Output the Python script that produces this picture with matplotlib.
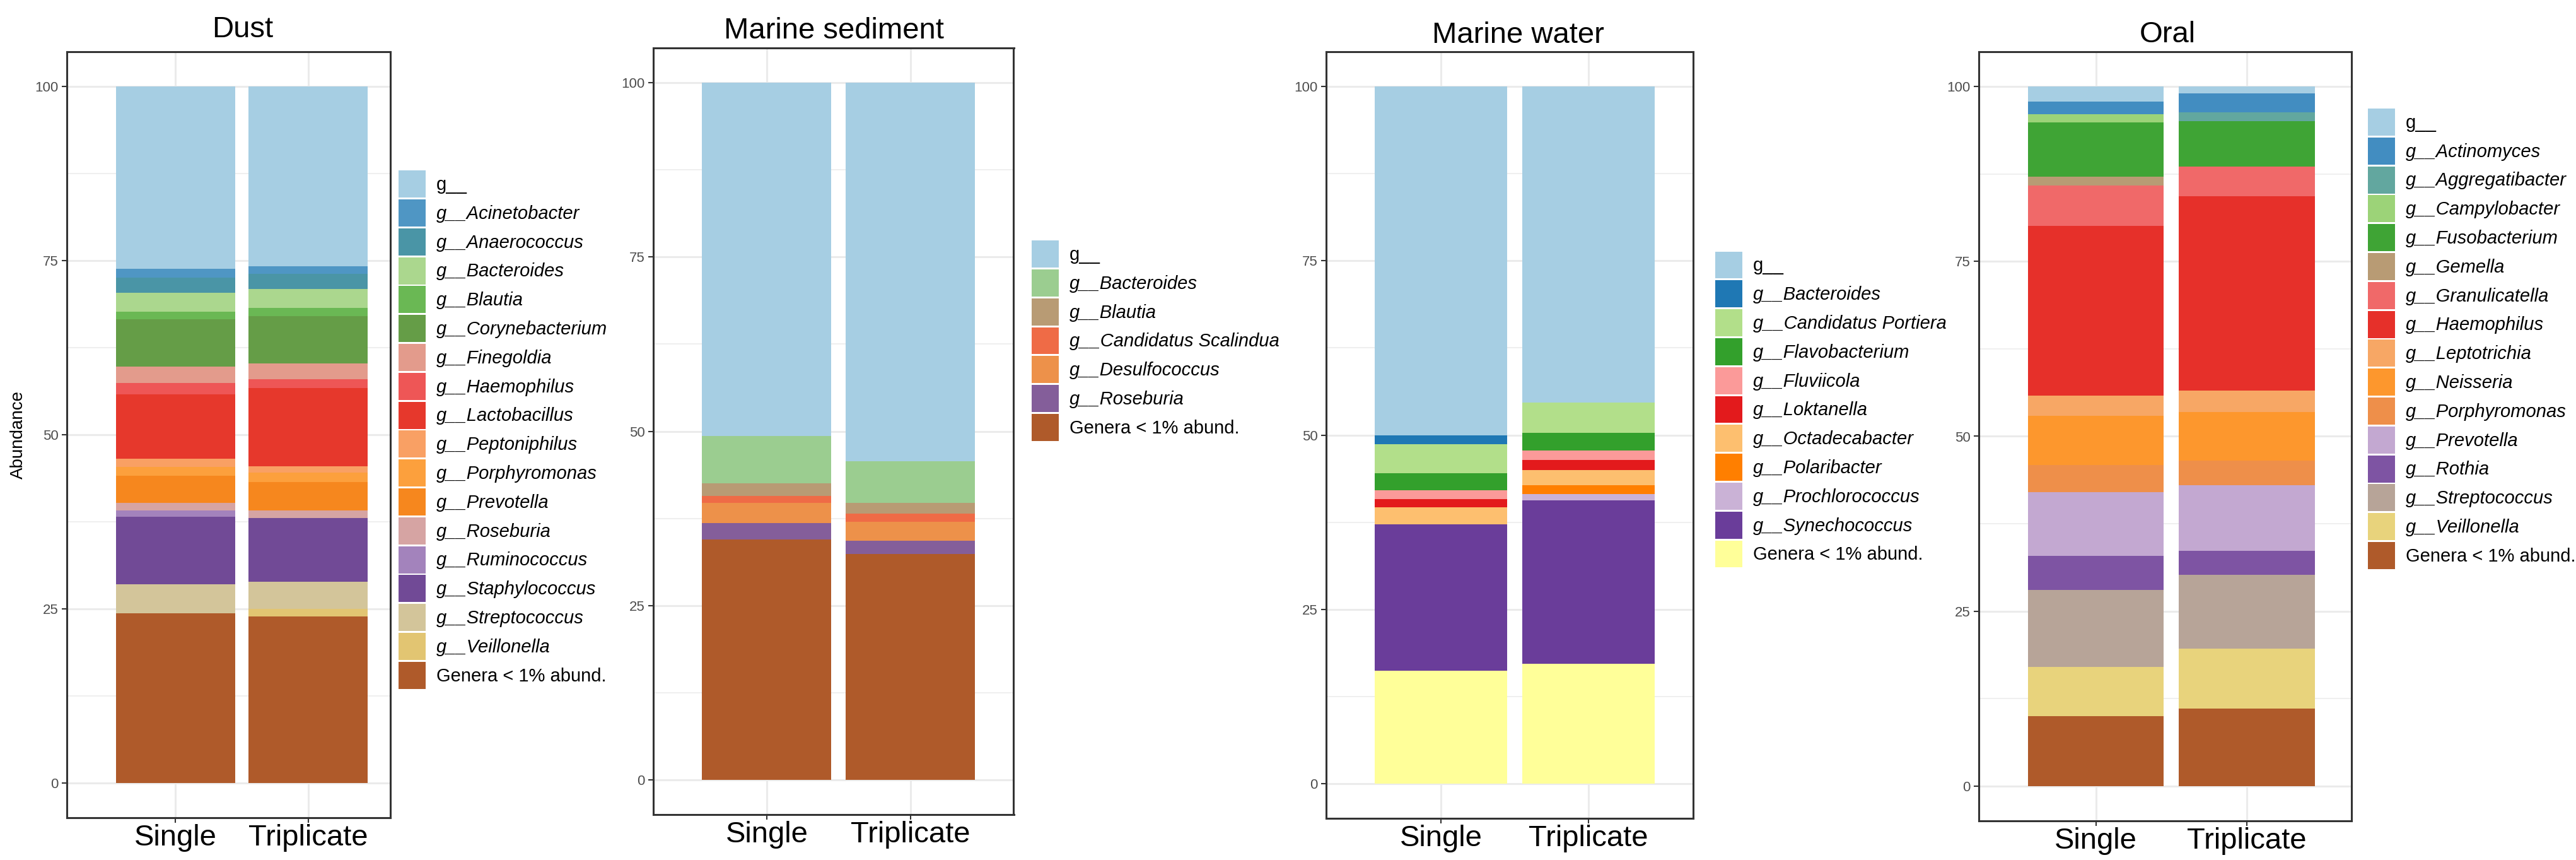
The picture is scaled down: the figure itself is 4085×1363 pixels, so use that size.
import matplotlib
matplotlib.use('Agg')
import matplotlib.pyplot as plt
from matplotlib.patches import Patch
from matplotlib.ticker import MultipleLocator

plt.rcParams['font.family'] = ['Liberation Sans', 'DejaVu Sans']

samples = ['Single', 'Triplicate']

# ---------------- Dust ----------------
dust_genera = ['g__', 'g__Acinetobacter', 'g__Anaerococcus', 'g__Bacteroides', 'g__Blautia',
               'g__Corynebacterium', 'g__Finegoldia', 'g__Haemophilus', 'g__Lactobacillus',
               'g__Peptoniphilus', 'g__Porphyromonas', 'g__Prevotella', 'g__Roseburia',
               'g__Ruminococcus', 'g__Staphylococcus', 'g__Streptococcus', 'g__Veillonella',
               'Genera < 1% abund.']
dust_single = [26.2, 1.2, 2.2, 2.7, 1.1, 6.8, 2.4, 1.6, 9.2, 1.2, 1.3, 3.9, 1.1, 0.9, 9.7, 4.1, 0.0, 24.4]
dust_triplicate = [25.8, 1.1, 2.2, 2.7, 1.2, 6.8, 2.2, 1.3, 11.2, 0.9, 1.4, 4.1, 1.1, 0.0, 9.1, 3.9, 1.1, 23.9]
dust_colors = ['#A6CEE3', '#4F96C4', '#4A95A6', '#ABD78E', '#6AB854', '#659D47', '#E39B8C',
               '#EE5656', '#E6382C', '#F9A064', '#FCA03D', '#F6871E', '#D6A4A3', '#A383BC',
               '#714A96', '#D3C59A', '#E2C572', '#AF5A2A']

# ---------------- Marine sediment ----------------
sed_genera = ['g__', 'g__Bacteroides', 'g__Blautia', 'g__Candidatus Scalindua',
              'g__Desulfococcus', 'g__Roseburia', 'Genera < 1% abund.']
sed_single = [50.7, 6.8, 1.8, 1.0, 2.9, 2.3, 34.5]
sed_triplicate = [54.3, 6.0, 1.5, 1.2, 2.7, 1.9, 32.4]
sed_colors = ['#A6CEE3', '#9BCD90', '#B89B74', '#EF6B46', '#ED914A', '#845E9A', '#AF5A2A']

# ---------------- Marine water ----------------
water_genera = ['g__', 'g__Bacteroides', 'g__Candidatus Portiera', 'g__Flavobacterium',
                'g__Fluviicola', 'g__Loktanella', 'g__Octadecabacter', 'g__Polaribacter',
                'g__Prochlorococcus', 'g__Synechococcus', 'Genera < 1% abund.']
water_single = [50.0, 1.3, 4.2, 2.4, 1.3, 1.2, 2.4, 0.0, 0.0, 21.0, 16.2]
water_triplicate = [45.3, 0.0, 4.4, 2.5, 1.4, 1.4, 2.2, 1.3, 0.9, 23.4, 17.2]
water_colors = ['#A6CEE3', '#1F78B4', '#B2DF8A', '#33A02C', '#FB9A99', '#E31A1C', '#FDBF6F',
                '#FF7F00', '#CAB2D6', '#6A3D9A', '#FFFF99']

# ---------------- Oral ----------------
oral_genera = ['g__', 'g__Actinomyces', 'g__Aggregatibacter', 'g__Campylobacter',
               'g__Fusobacterium', 'g__Gemella', 'g__Granulicatella', 'g__Haemophilus',
               'g__Leptotrichia', 'g__Neisseria', 'g__Porphyromonas', 'g__Prevotella',
               'g__Rothia', 'g__Streptococcus', 'g__Veillonella', 'Genera < 1% abund.']
oral_single = [2.1, 1.8, 0.0, 1.2, 7.8, 1.2, 5.8, 24.3, 2.9, 7.0, 3.9, 9.1, 4.9, 11.0, 7.0, 10.0]
oral_triplicate = [1.0, 2.7, 1.2, 0.0, 6.5, 0.0, 4.3, 27.8, 3.0, 7.0, 3.5, 9.4, 3.4, 10.6, 8.5, 11.1]
oral_colors = ['#A6CEE3', '#428DC1', '#62A79F', '#9CD378', '#3FA435', '#B89B74', '#F06969',
               '#E6302A', '#F7A765', '#FD972D', '#EE8F4A', '#C3A8D1', '#7E54A3', '#B7A498',
               '#E8D37C', '#AF5A2A']

W, H = 4085, 1363
fig = plt.figure(figsize=(W / 100, H / 100), dpi=100)

# layout in pixels: left, right, top, bottom, xlim, title x, title baseline, legend left, legend centre
panels = [
    ('Dust', dust_genera, dust_single, dust_triplicate, dust_colors,
     (106, 619, 82, 1296), (0.18, 2.62), 385, 59, 632, 681),
    ('Marine sediment', sed_genera, sed_single, sed_triplicate, sed_colors,
     (1036, 1607.5, 76, 1291), (0.21, 2.72), 1322, 61, 1636, 540),
    ('Marine water', water_genera, water_single, water_triplicate, water_colors,
     (2103, 2685, 82, 1297), (0.22, 2.71), 2407, 68, 2720, 649),
    ('Oral', oral_genera, oral_single, oral_triplicate, oral_colors,
     (3138, 3728.5, 82, 1301), (0.225, 2.69), 3437, 67, 3755, 537),
]

grid_c = '#EBEBEB'
for (title, genera, single, trip, colors, box, xlim, tx, ty, lx, lcy) in panels:
    l, r, t, b = box
    ax = fig.add_axes([l / W, 1 - b / H, (r - l) / W, (b - t) / H])
    x = [1, 2]
    bottoms = [0.0, 0.0]
    # stack from the bottom: reverse legend order
    for i in range(len(genera) - 1, -1, -1):
        vals = [single[i], trip[i]]
        ax.bar(x, vals, width=0.9, bottom=bottoms, color=colors[i], linewidth=0, zorder=3)
        bottoms = [bottoms[0] + vals[0], bottoms[1] + vals[1]]
    ax.set_xlim(*xlim)
    ax.set_ylim(-5, 105)
    ax.set_xticks(x)
    ax.set_xticklabels(samples, fontsize=34, color='black')
    ax.set_yticks([0, 25, 50, 75, 100])
    ax.set_yticklabels(['0', '25', '50', '75', '100'], fontsize=16, color='#4D4D4D')
    ax.yaxis.set_minor_locator(MultipleLocator(12.5))
    ax.tick_params(axis='x', length=5.5, width=1.5, color='#333333', pad=2)
    ax.tick_params(axis='y', length=5.5, width=1.5, color='#333333', pad=4)
    ax.tick_params(axis='y', which='minor', length=0)
    ax.grid(True, which='major', color=grid_c, linewidth=2.2, zorder=0)
    ax.grid(True, which='minor', axis='y', color=grid_c, linewidth=1.1, zorder=0)
    ax.set_axisbelow(True)
    for s in ax.spines.values():
        s.set_linewidth(2.2)
        s.set_color('#333333')
    fig.text(tx / W, 1 - ty / H, title, fontsize=34, ha='center', va='baseline')

    handles = [Patch(facecolor=c, edgecolor='none') for c in colors]
    leg = ax.legend(handles, genera, loc='center left',
                    bbox_to_anchor=(lx / W, 1 - lcy / H), bbox_transform=fig.transFigure,
                    frameon=False, fontsize=21, borderpad=0, borderaxespad=0,
                    handlelength=1.47, handleheight=1.885, labelspacing=0.1,
                    handletextpad=0.58)
    for txt in leg.get_texts():
        s = txt.get_text()
        if s.startswith('g__') and len(s) > 3:
            txt.set_fontstyle('italic')

fig.text(29 / W, 1 - 689 / H, 'Abundance', fontsize=20, rotation=90, ha='center', va='center')

fig.savefig('out.png', dpi=100)
